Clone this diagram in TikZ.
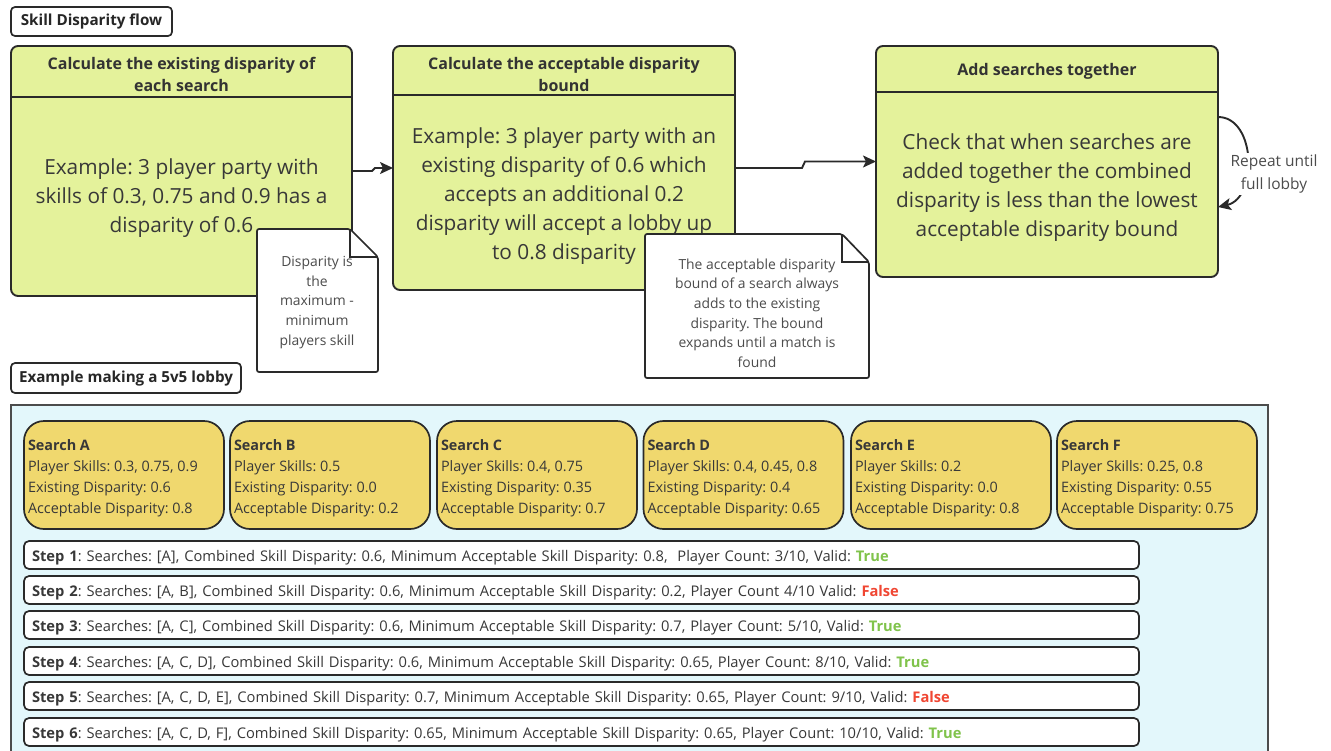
\documentclass[tikz,border=0pt]{standalone}
\usepackage{fontspec}
\setmainfont{Open Sans}
\usetikzlibrary{arrows.meta}
\frenchspacing
\definecolor{boxgreen}{HTML}{E4F29B}
\definecolor{searchgold}{HTML}{F0D86E}
\definecolor{panelcyan}{HTML}{E3F7FB}
\definecolor{edge}{HTML}{2A2A2A}
\definecolor{txt}{HTML}{383838}
\definecolor{truegreen}{HTML}{80C34B}
\definecolor{falsered}{HTML}{F04632}
\newcommand{\okv}{\textcolor{truegreen}{\textbf{True}}}
\newcommand{\badv}{\textcolor{falsered}{\textbf{False}}}
\begin{document}
\begin{tikzpicture}[x=1pt,y=-1pt,
  every node/.style={inner sep=0pt,outer sep=0pt,text=txt},
  labelbox/.style={draw=edge,line width=1.7pt,fill=white,rounded corners=4pt,
    font=\fontsize{15.2}{19}\selectfont\bfseries,text=black!85},
  flowbox/.style={draw=edge,line width=1.9pt,fill=boxgreen,rounded corners=7pt},
  headtxt/.style={align=center,font=\fontsize{16}{22}\selectfont\bfseries,text=black!80},
  bodytxt/.style={align=center,font=\fontsize{20.8}{29}\selectfont},
  notetxt/.style={align=center,font=\fontsize{13.9}{19.6}\selectfont,text=black!70},
  notebox/.style={draw=edge,line width=1.7pt,fill=white,rounded corners=2pt},
  arr/.style={draw=edge,line width=1.9pt,-{Stealth[length=13pt,width=12pt,inset=3pt]}},
  searchbox/.style={draw=edge,line width=1.7pt,fill=searchgold,rounded corners=20pt,
    minimum width=200pt,minimum height=108pt},
  searchtxt/.style={anchor=west,align=left,font=\fontsize{14.4}{21}\selectfont},
  steprow/.style={draw=edge,line width=1.7pt,fill=white,rounded corners=5pt,
    minimum height=28pt,text width=1099pt,inner xsep=8pt,align=left,
    text height=14pt,text depth=1pt,
    font=\fontsize{14.7}{18}\selectfont}]
\useasboundingbox (0,0) rectangle (1331,750);
\clip (0,0) rectangle (1331,750);

% title
\node[labelbox,minimum width=161pt,minimum height=29pt,text height=11pt,text depth=3pt] (title) at (91.5,21.5) {Skill Disparity flow};

% flow boxes
\node[flowbox,minimum width=341pt,minimum height=250pt] (box1) at (181.5,171) {};
\node[flowbox,minimum width=342pt,minimum height=244pt] (box2) at (564,168) {};
\node[flowbox,minimum width=342pt,minimum height=231pt] (box3) at (1047,161.5) {};
\draw[draw=edge,line width=1.9pt] (box1.west |- 0,97) -- (box1.east |- 0,97);
\draw[draw=edge,line width=1.9pt] (box2.west |- 0,95) -- (box2.east |- 0,95);
\draw[draw=edge,line width=1.9pt] (box3.west |- 0,92) -- (box3.east |- 0,92);

\node[headtxt] (h1) at (181.5,74) {Calculate the existing disparity of\\each search};
\node[headtxt] (h2) at (564,74) {Calculate the acceptable disparity\\bound};
\node[headtxt] (h3) at (1047,71) {Add searches together};

\node[bodytxt] (t1) at (181.5,198) {Example: 3 player party with\\skills of 0.3, 0.75 and 0.9 has a\\disparity of 0.6};
\node[bodytxt] (t2) at (564,196.5) {Example: 3 player party with an\\existing disparity of 0.6 which\\accepts an additional 0.2\\disparity will accept a lobby up\\to 0.8 disparity};
\node[bodytxt] (t3) at (1047,187.5) {Check that when searches are\\added together the combined\\disparity is less than the lowest\\acceptable disparity bound};

% connectors
\coordinate (j1a) at (372,171);
\coordinate (j1b) at (375,168);
\draw[arr] (box1.east) -- (j1a) -- (j1b) -- (box2.west);
\coordinate (j2a) at (802,168);
\coordinate (j2b) at (805,161.5);
\draw[arr] (box2.east) -- (j2a) -- (j2b) -- (box3.west);
\coordinate (l1) at (1218,117);
\coordinate (l2) at (1218,207);
\draw[arr] (l1) .. controls (1256,117) and (1258,198) .. (l2);
\node[fill=white,align=center,font=\fontsize{15.5}{23}\selectfont,text=black!70,inner sep=2pt] (rep) at (1274,174) {Repeat until\\full lobby};

% notes
\draw[notebox] (257,229) -- (350,229) -- (378,257) -- (378,372) -- (257,372) -- cycle;
\draw[draw=edge,line width=1.7pt] (350,229) -- (350,257) -- (378,257);
\node[notetxt] (n1) at (317,302.5) {Disparity is\\the\\maximum -\\minimum\\players skill};
\draw[notebox] (645,234) -- (842,234) -- (869,262) -- (869,378) -- (645,378) -- cycle;
\draw[draw=edge,line width=1.7pt] (842,234) -- (842,262) -- (869,262);
\node[notetxt] (n2) at (757,313) {The acceptable disparity\\bound of a search always\\adds to the existing\\disparity. The bound\\expands until a match is\\found};

% example panel
\node[labelbox,minimum width=230pt,minimum height=30pt,text height=11pt,text depth=3pt] (exlabel) at (126,378) {Example making a 5v5 lobby};
\draw[draw=black!70,line width=1.8pt,fill=panelcyan] (11,405) rectangle (1268,770);

\node[searchbox] (sA) at (124,475) {};
\node[searchbox] (sB) at (330,475) {};
\node[searchbox] (sC) at (537,475) {};
\node[searchbox] (sD) at (743.5,475) {};
\node[searchbox] (sE) at (951,475) {};
\node[searchbox] (sF) at (1157,475) {};
\node[searchtxt] (sAt) at ([xshift=4pt,yshift=-3pt]sA.west) {\textbf{Search A}\\Player Skills: 0.3, 0.75, 0.9\\Existing Disparity: 0.6\\Acceptable Disparity: 0.8};
\node[searchtxt] (sBt) at ([xshift=4pt,yshift=-3pt]sB.west) {\textbf{Search B}\\Player Skills: 0.5\\Existing Disparity: 0.0\\Acceptable Disparity: 0.2};
\node[searchtxt] (sCt) at ([xshift=4pt,yshift=-3pt]sC.west) {\textbf{Search C}\\Player Skills: 0.4, 0.75\\Existing Disparity: 0.35\\Acceptable Disparity: 0.7};
\node[searchtxt] (sDt) at ([xshift=4pt,yshift=-3pt]sD.west) {\textbf{Search D}\\Player Skills: 0.4, 0.45, 0.8\\Existing Disparity: 0.4\\Acceptable Disparity: 0.65};
\node[searchtxt] (sEt) at ([xshift=4pt,yshift=-3pt]sE.west) {\textbf{Search E}\\Player Skills: 0.2\\Existing Disparity: 0.0\\Acceptable Disparity: 0.8};
\node[searchtxt] (sFt) at ([xshift=4pt,yshift=-3pt]sF.west) {\textbf{Search F}\\Player Skills: 0.25, 0.8\\Existing Disparity: 0.55\\Acceptable Disparity: 0.75};

\node[steprow] (st1) at (581.5,555) {\textbf{Step 1}: Searches: [A], Combined Skill Disparity: 0.6, Minimum Acceptable Skill Disparity: 0.8, \ Player Count: 3/10, Valid: \okv};
\node[steprow] (st2) at (581.5,590) {\textbf{Step 2}: Searches: [A, B], Combined Skill Disparity: 0.6, Minimum Acceptable Skill Disparity: 0.2, Player Count 4/10 Valid: \badv};
\node[steprow] (st3) at (581.5,625) {\textbf{Step 3}: Searches: [A, C], Combined Skill Disparity: 0.6, Minimum Acceptable Skill Disparity: 0.7, Player Count: 5/10, Valid: \okv};
\node[steprow] (st4) at (581.5,661) {\textbf{Step 4}: Searches: [A, C, D], Combined Skill Disparity: 0.6, Minimum Acceptable Skill Disparity: 0.65, Player Count: 8/10, Valid: \okv};
\node[steprow] (st5) at (581.5,696) {\textbf{Step 5}: Searches: [A, C, D, E], Combined Skill Disparity: 0.7, Minimum Acceptable Skill Disparity: 0.65, Player Count: 9/10, Valid: \badv};
\node[steprow] (st6) at (581.5,732) {\textbf{Step 6}: Searches: [A, C, D, F], Combined Skill Disparity: 0.65, Minimum Acceptable Skill Disparity: 0.65, Player Count: 10/10, Valid: \okv};
\end{tikzpicture}
\end{document}
